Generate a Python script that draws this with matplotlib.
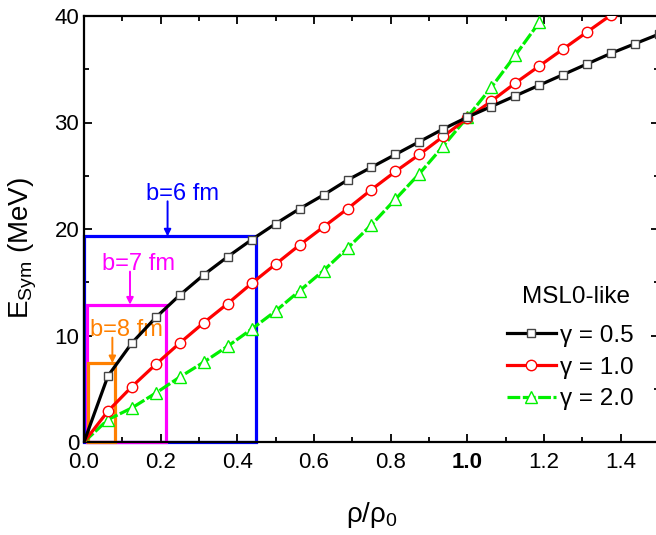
import numpy as np
import matplotlib
matplotlib.use("Agg")
import matplotlib.pyplot as plt
from matplotlib.patches import Rectangle

plt.rcParams['font.family'] = ['Liberation Sans', 'DejaVu Sans']
plt.rcParams['mathtext.fontset'] = 'custom'
plt.rcParams['mathtext.rm'] = 'Liberation Sans'
plt.rcParams['mathtext.it'] = 'Liberation Sans:italic'

# ---- data ----
density = [0.0, 0.0625, 0.125, 0.1875, 0.25, 0.3125, 0.375, 0.4375, 0.5,
           0.5625, 0.625, 0.6875, 0.75, 0.8125, 0.875, 0.9375, 1.0,
           1.0625, 1.125, 1.1875, 1.25, 1.3125, 1.375, 1.4375, 1.5]
esym_g05 = [0, 6.2, 9.3, 11.7, 13.8, 15.7, 17.4, 19.0, 20.5, 21.9, 23.2, 24.6,
            25.8, 27.0, 28.2, 29.4, 30.5, 31.5, 32.5, 33.5, 34.5, 35.5, 36.5,
            37.4, 38.3]
esym_g10 = [0, 2.9, 5.2, 7.3, 9.3, 11.2, 13.0, 14.9, 16.7, 18.5, 20.2, 21.9,
            23.7, 25.4, 27.0, 28.7, 30.4, 32.0, 33.7, 35.3, 36.9, 38.5, 40.1]
esym_g20 = [0, 2.1, 3.2, 4.6, 6.1, 7.5, 9.0, 10.6, 12.3, 14.2, 16.1, 18.2,
            20.4, 22.8, 25.2, 27.8, 30.5, 33.3, 36.3, 39.4]
series_labels = ['γ = 0.5', 'γ = 1.0', 'γ = 2.0']
legend_title = 'MSL0-like'

# impact-parameter boxes
box_x0 = [0.0, 0.008, 0.011]
box_x1 = [0.448, 0.213, 0.081]
box_top = [19.3, 12.9, 7.4]
box_labels = ['b=6 fm', 'b=7 fm', 'b=8 fm']
box_colors = ['#0000ff', '#ff00ff', '#ff8000']
arrow_x = [0.218, 0.12, 0.074]
arrow_y0 = [22.6, 16.0, 9.8]
text_x = [0.258, 0.143, 0.11]
text_y = [22.7, 16.15, 10.0]

xticks = [0.0, 0.2, 0.4, 0.6, 0.8, 1.0, 1.2, 1.4]
xticklabels = ['0.0', '0.2', '0.4', '0.6', '0.8', '1.0', '1.2', '1.4']
yticks = [0, 10, 20, 30, 40]

fig = plt.figure(figsize=(6.56, 5.35), dpi=100)
ax = fig.add_axes([84/656, 93/535, 575/656, 426/535])

for x0, x1, yt, c in zip(box_x0, box_x1, box_top, box_colors):
    ax.add_patch(Rectangle((x0, 0), x1 - x0, yt, fill=False, edgecolor=c,
                           linewidth=2.3, clip_on=False, zorder=2))
for lab, c, axx, ay0, yt, tx, ty in zip(box_labels, box_colors, arrow_x, arrow_y0,
                                        box_top, text_x, text_y):
    ax.annotate('', xy=(axx, yt), xytext=(axx, ay0),
                arrowprops=dict(arrowstyle='-|>', color=c, lw=1.4,
                                mutation_scale=10, shrinkA=0, shrinkB=0))
    ax.text(tx, ty, lab, color=c, fontsize=17, ha='center', va='baseline')

green = '#00f000'
n1, n2, n3 = len(esym_g05), len(esym_g10), len(esym_g20)
l1, = ax.plot(density[:n1], esym_g05, '-', color='black', lw=2.3, marker='s',
              ms=6.2, mfc='white', mec='#444444', mew=1.0, markevery=slice(1, None),
              zorder=5, label=series_labels[0])
l2, = ax.plot(density[:n2], esym_g10, '-', color='#ff0000', lw=2.3, marker='o',
              ms=7.5, mfc='white', mec='#ff0000', mew=1.0, markevery=slice(1, None),
              zorder=4, label=series_labels[1])
l3, = ax.plot(density[:n3], esym_g20, '--', color=green, lw=2.3, marker='^',
              ms=8, mfc='white', mec=green, mew=1.0, markevery=slice(1, None),
              zorder=3, label=series_labels[2])
l3.set_dashes([4, 0.8])

ax.set_xlim(0, 1.5)
ax.set_ylim(0, 40)
ax.set_xticks(xticks)
ax.set_xticklabels(xticklabels)
for t in ax.get_xticklabels():
    if t.get_text() == '1.0':
        t.set_fontweight('bold')
ax.set_yticks(yticks)
ax.set_xticks(np.arange(0.1, 1.5, 0.2), minor=True)
ax.set_yticks([5, 15, 25, 35], minor=True)
ax.tick_params(which='both', direction='in', top=True, right=True,
               labelsize=16, width=1.3)
ax.tick_params(which='major', length=6)
ax.tick_params(which='minor', length=3.5)
ax.tick_params(axis='x', pad=7)
for s in ax.spines.values():
    s.set_linewidth(1.6)

ax.set_xlabel('ρ/ρ$_0$', fontsize=20)
ax.xaxis.set_label_coords(0.5, -0.136)
ax.set_ylabel('E$_{\\rm Sym}$ (MeV)', fontsize=20)
ax.yaxis.set_label_coords(-0.078, 0.455)

leg = ax.legend(handles=[l1, l2, l3], loc='upper left',
                bbox_to_anchor=(0.7357, 0.275), frameon=False, fontsize=17.5,
                handlelength=2.0, handletextpad=0.2,
                labelspacing=0.4, borderpad=0.0, borderaxespad=0.0)
ax.text(0.856, 0.340, legend_title, transform=ax.transAxes, fontsize=17.5,
        ha='center', va='center')

fig.savefig('out.png', dpi=100)
